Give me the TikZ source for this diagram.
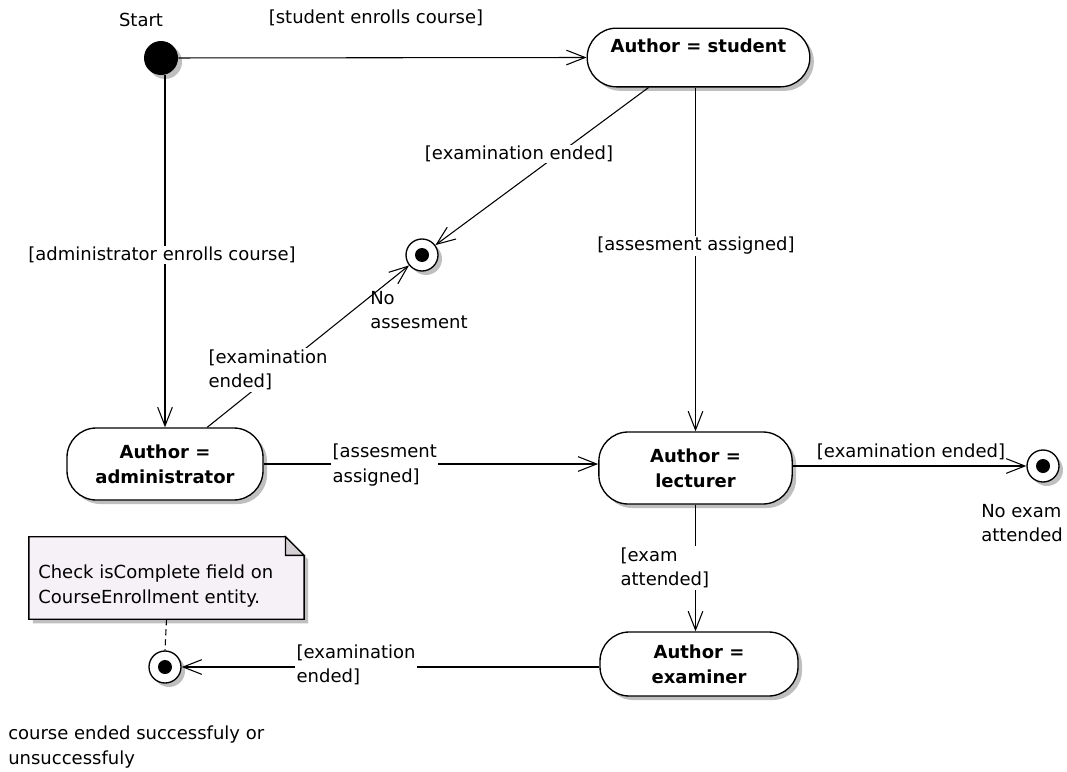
\documentclass[tikz,border=0pt]{standalone}
\usepackage{fontspec}
\setmainfont{DejaVu Sans}
\usetikzlibrary{arrows.meta,shadows,positioning}
\definecolor{notefill}{RGB}{246,241,246}
\definecolor{earfill}{RGB}{212,208,212}
\newcommand\diagfont{\fontsize{13.5}{18.5}\selectfont}
\tikzset{
  every node/.style={font=\diagfont},
  shade/.style={drop shadow={shadow xshift=3pt,shadow yshift=-3pt,fill=black!25,opacity=1}},
  state/.style={draw,line width=1pt,rounded corners=22pt,fill=white,align=center,
    font=\diagfont\bfseries,shade},
  initial/.style={circle,fill=black,minimum size=25.5pt,inner sep=0pt,shade},
  final/.style={circle,draw,line width=1pt,fill=white,minimum size=24pt,inner sep=0pt,shade,
    path picture={\fill[black] (path picture bounding box.center) circle (5.25pt);}},
  trans/.style={-{Straight Barb[length=14pt,width=11pt]},line width=0.8pt},
  lbl/.style={fill=white,inner sep=1pt,align=left},
  txt/.style={inner sep=0pt,align=left}
}
\begin{document}
\begin{tikzpicture}[x=0.75pt,y=-0.75pt]
\useasboundingbox (0,0) rectangle (1067,771);
%Состояния
\node[initial] (start) at (161,58) {};
\node[txt] (startlbl) at (141,20) {Start};
\node[state,minimum width=167pt,minimum height=44pt] (student) at (698.5,57.5) {Author = student\\\mbox{}};
\node[state,minimum width=147pt,minimum height=54pt] (admin) at (165,464) {Author =\\administrator};
\node[state,minimum width=145pt,minimum height=54pt] (lecturer) at (695.5,468) {Author =\\lecturer};
\node[state,minimum width=148.5pt,minimum height=48pt] (examiner) at (699,664) {Author =\\examiner};
%Конечные состояния
\node[final] (noassess) at (422,255) {};
\node[txt,anchor=west] (noassesslbl) at (370,310) {No\\assesment};
\node[final] (noexam) at (1043,466) {};
\node[txt,anchor=west] (noexamlbl) at (981,523) {No exam\\attended};
\node[final] (done) at (165,667) {};
\node[txt,anchor=west] (donelbl) at (8,747) {course ended successfuly or\\unsuccessfuly};
%Заметка
\node[minimum width=206pt,minimum height=61.5pt,inner sep=0pt] (note) at (166.5,578) {};
\draw[line width=1pt,fill=notefill,shade] (note.south west) -- (note.north west)
  -- ([xshift=-14pt]note.north east) -- ([yshift=-14pt]note.north east)
  -- (note.south east) -- cycle;
\draw[line width=1pt,fill=earfill] ([xshift=-14pt]note.north east) -- ([xshift=-14pt,yshift=-14pt]note.north east)
  -- ([yshift=-14pt]note.north east) -- cycle;
\node[txt,anchor=west] (notetext) at (38,586) {Check isComplete field on\\CourseEnrollment entity.};
\draw[line width=0.8pt,dash pattern=on 4.5pt off 3pt] (note.south) -- (done.north);
%Переходы
\draw[trans] (start) -- (student.west);
\draw[trans] (start.south -| admin.north) -- (admin.north);
\draw[trans] (student.211) -- (noassess);
\draw[trans] (admin.41) -- (noassess);
\draw[trans] (student.south -| lecturer.north) -- (lecturer.north);
\draw[trans] (admin.east) -- (admin.east -| lecturer.west);
\draw[trans] (lecturer.east |- noexam) -- (noexam.west);
\draw[trans] (lecturer.south) -- (lecturer.south |- examiner.north);
\draw[trans] (done -| examiner.west) -- (done.east);
%Подписи переходов
\node[txt] (l1) at (376,18) {[student enrolls course]};
\node[lbl] (l2) at (162,255) {[administrator enrolls course]};
\node[lbl] (l3) at (519,154) {[examination ended]};
\node[lbl] (l4) at (696,246) {[assesment assigned]};
\node[lbl,anchor=west] (l5) at (207,370) {[examination\\ended]};
\node[lbl,anchor=west] (l6) at (331,465) {[assesment\\assigned]};
\node[txt] (l7) at (911,452) {[examination ended]};
\node[lbl,anchor=west] (l8) at (619,568) {[exam\\attended]};
\node[lbl,anchor=west] (l9) at (295,665) {[examination\\ended]};
\end{tikzpicture}
\end{document}
